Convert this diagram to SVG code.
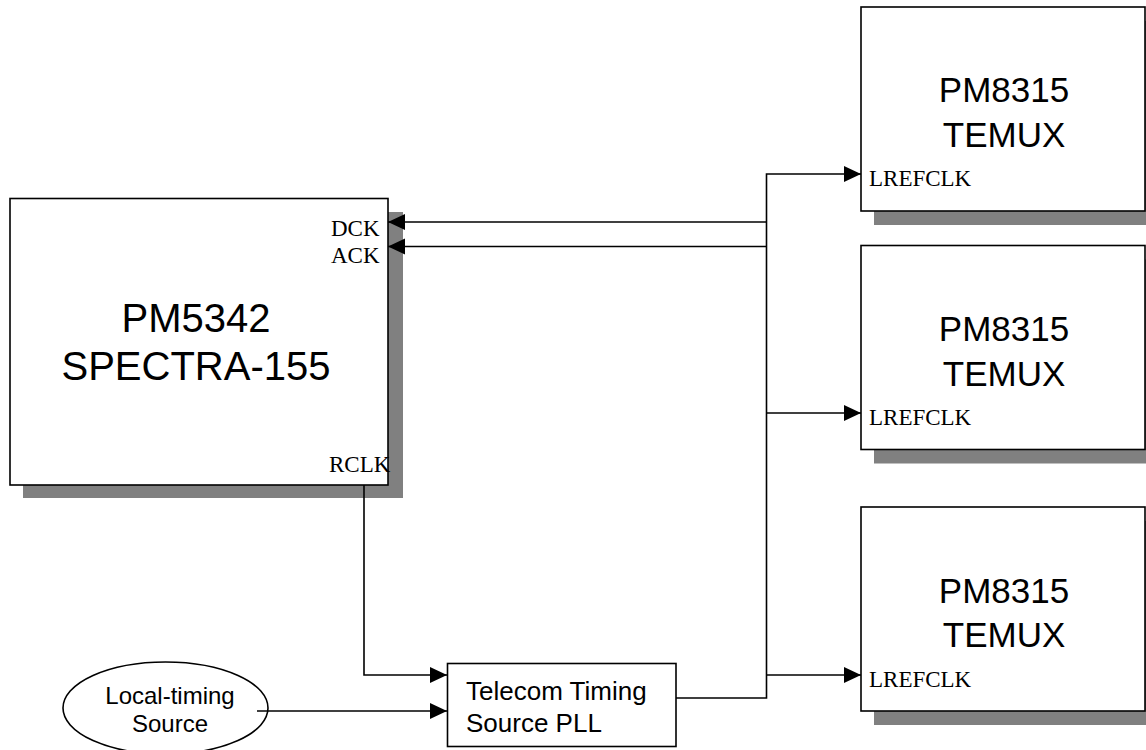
<svg xmlns="http://www.w3.org/2000/svg" width="1146" height="750" viewBox="0 0 1146 750">
<style>
.box{fill:#fff;stroke:#000;stroke-width:1.6}
.shadow{fill:#808080;stroke:none}
.big{font-family:"Liberation Sans",Arial,sans-serif;text-anchor:middle;fill:#000}
.pin{font-family:"Liberation Serif","Times New Roman",serif;font-size:23px;fill:#000}
.wire{fill:none;stroke:#000;stroke-width:1.6}
</style>
<defs>
<marker id="arr" markerUnits="userSpaceOnUse" markerWidth="18" markerHeight="18" refX="17" refY="8" orient="auto">
<path d="M0,0 L17,8 L0,16 z" fill="#000"/>
</marker>
</defs>
<rect width="1146" height="750" fill="#fff"/>
<g id="spectra">
<rect class="shadow" x="23" y="212" width="380" height="286"/>
<rect class="box" x="10" y="198.5" width="378" height="286.5"/>
<text class="big" x="196" y="332" font-size="40">PM5342</text>
<text class="big" x="196" y="380" font-size="40">SPECTRA-155</text>
<text class="pin" x="331" y="236">DCK</text>
<text class="pin" x="331" y="263">ACK</text>
<text class="pin" x="329" y="472">RCLK</text>
</g>
<g id="temux1">
<rect class="shadow" x="874" y="21" width="272" height="204"/>
<rect class="box" x="861" y="7" width="284" height="204"/>
<text class="big" x="1004" y="102" font-size="35">PM8315</text>
<text class="big" x="1004" y="147" font-size="35">TEMUX</text>
<text class="pin" x="869" y="186">LREFCLK</text>
</g>
<g id="temux2">
<rect class="shadow" x="874" y="259.5" width="272" height="204"/>
<rect class="box" x="861" y="245.5" width="284" height="204"/>
<text class="big" x="1004" y="340.5" font-size="35">PM8315</text>
<text class="big" x="1004" y="385.5" font-size="35">TEMUX</text>
<text class="pin" x="869" y="424.5">LREFCLK</text>
</g>
<g id="temux3">
<rect class="shadow" x="874" y="521" width="272" height="204"/>
<rect class="box" x="861" y="507" width="284" height="204"/>
<text class="big" x="1004" y="603" font-size="35">PM8315</text>
<text class="big" x="1004" y="647" font-size="35">TEMUX</text>
<text class="pin" x="869" y="687">LREFCLK</text>
</g>
<g id="pll">
<rect class="box" x="447.5" y="663.5" width="228.5" height="83"/>
<text font-family="'Liberation Sans',Arial,sans-serif" font-size="26" x="466" y="700">Telecom Timing</text>
<text font-family="'Liberation Sans',Arial,sans-serif" font-size="26" x="466" y="732">Source PLL</text>
</g>
<g id="local">
<ellipse class="box" cx="165.5" cy="708" rx="102.5" ry="46"/>
<text class="big" x="170" y="704" font-size="24">Local-timing</text>
<text class="big" x="170" y="732" font-size="24">Source</text>
</g>
<g id="connectors">
<path class="wire" d="M767,222 H388" marker-end="url(#arr)"/>
<path class="wire" d="M767,246.5 H388" marker-end="url(#arr)"/>
<path class="wire" d="M676,698 H766.5 V174 H861" marker-end="url(#arr)"/>
<path class="wire" d="M766.5,413 H861" marker-end="url(#arr)"/>
<path class="wire" d="M766.5,675 H861" marker-end="url(#arr)"/>
<path class="wire" d="M364,485 V675 H447" marker-end="url(#arr)"/>
<path class="wire" d="M257,711 H447" marker-end="url(#arr)"/>
</g>
</svg>
